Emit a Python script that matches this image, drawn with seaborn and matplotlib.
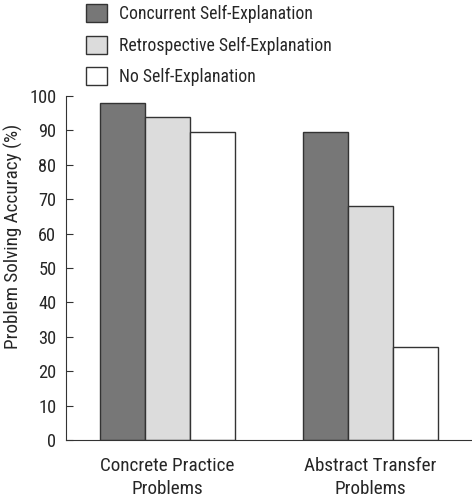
import pandas as pd
import seaborn as sns
import matplotlib.pyplot as plt
from matplotlib.patches import Patch

problems = ["Concrete Practice\nProblems", "Abstract Transfer\nProblems"]
conditions = ["Concurrent Self-Explanation", "Retrospective Self-Explanation", "No Self-Explanation"]
concurrent = [98, 89.5]
retrospective = [94, 68]
no_expl = [89.5, 27]
colors = ["#777777", "#dcdcdc", "#ffffff"]

df = pd.DataFrame({
    "problem": problems * 3,
    "condition": [c for c in conditions for _ in problems],
    "accuracy": concurrent + retrospective + no_expl,
})

sns.set_style("ticks")
plt.rcParams['font.family'] = ['Roboto Condensed', 'DejaVu Sans']

fig = plt.figure(figsize=(4.72, 5.0), dpi=100)
ax = fig.add_axes([0.14, 0.12, 0.86, 0.688])

sns.barplot(data=df, x="problem", y="accuracy", hue="condition", hue_order=conditions,
            palette=colors, width=0.667, gap=0, edgecolor="#333333", linewidth=1,
            saturation=1, legend=False, ax=ax)

ax.set_xlim(-0.5, 1.5)
ax.set_ylim(0, 100)
ax.set_yticks(range(0, 101, 10))
ax.tick_params(axis="y", direction="in", length=5, labelsize=13.2, color="#333333", pad=7)
ax.tick_params(axis="x", length=0, labelsize=13.8, pad=12)
for t in ax.get_xticklabels():
    t.set_linespacing(1.4)
ax.set_xlabel("")
ax.set_ylabel("Problem Solving Accuracy (%)", fontsize=13.8)
ax.yaxis.set_label_coords(-0.105, 0.593)
sns.despine(ax=ax)
for s in ["left", "bottom"]:
    ax.spines[s].set_color("#333333")

handles = [Patch(facecolor=c, edgecolor="#333333", linewidth=1) for c in colors]
fig.legend(handles, conditions, loc="upper left", bbox_to_anchor=(0.148, 1.024),
           frameon=False, fontsize=12.7, handlelength=1.2, handleheight=1.2,
           labelspacing=0.72, handletextpad=0.7)

fig.savefig("out.png", dpi=100)
